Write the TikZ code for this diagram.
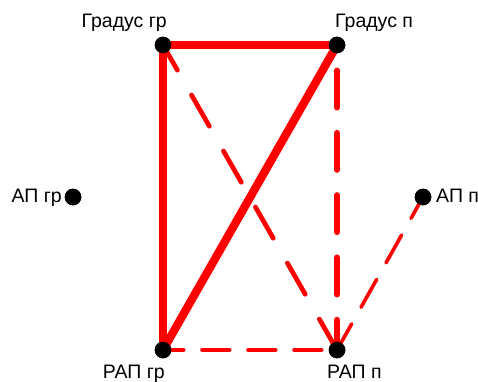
\documentclass[tikz,border=0pt]{standalone}
\usepackage{fontspec}
\setmainfont{Liberation Sans}
\begin{document}
\begin{tikzpicture}[x=1pt,y=1pt,
  dot/.style={circle,fill=black,inner sep=0pt,minimum size=16.6pt},
  lbl/.style={font=\fontsize{19.5}{22}\selectfont,inner sep=0pt},
  solidedge/.style={draw=red,line width=8.3pt},
  dashedge/.style={draw=red,line cap=round}]
\useasboundingbox (0,0) rectangle (478,381);
\node[dot] (gg) at (163,336) {};
\node[dot] (gp) at (337,336) {};
\node[dot] (ag) at (73,184) {};
\node[dot] (ap) at (423,184) {};
\node[dot] (rg) at (163,31) {};
\node[dot] (rp) at (337,31) {};
% edges
\draw[solidedge] (gg.center) -- (gp.center);
\draw[solidedge] (gg.center) -- (rg.center);
\draw[solidedge] (rg.center) -- (gp.center);
\draw[dashedge,line width=4.7pt,dash pattern=on 36pt off 28.5pt,dash phase=7pt] (gg.center) -- (rp.center);
\draw[dashedge,line width=6.5pt,dash pattern=on 36.5pt off 25.8pt,dash phase=36.5pt] (gp.center) -- (rp.center);
\draw[dashedge,line width=4.7pt,dash pattern=on 26.7pt off 19.3pt,dash phase=6.5pt] (rg.center) -- (rp.center);
\draw[dashedge,line width=3.6pt,dash pattern=on 32pt off 19pt,dash phase=7.5pt] (ap.center) -- (rp.center);
% dots above the lines
\foreach \n in {gg,gp,ag,ap,rg,rp} \fill (\n) circle (8.3pt);
% labels
\node[lbl,anchor=base east] (lgg) at (167,353) {Градус гр};
\node[lbl,anchor=base west] (lgp) at (335,353) {Градус п};
\node[lbl,anchor=base east] (lag) at (62,179) {АП гр};
\node[lbl,anchor=base west] (lap) at (436,179) {АП п};
\node[lbl,anchor=base east] (lrg) at (165,3) {РАП гр};
\node[lbl,anchor=base west] (lrp) at (327,3) {РАП п};
\end{tikzpicture}
\end{document}
